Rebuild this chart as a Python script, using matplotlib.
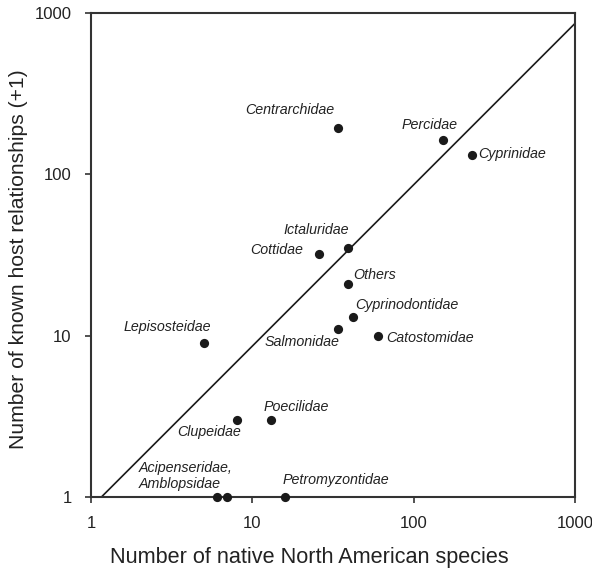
import matplotlib
matplotlib.use("Agg")
import matplotlib.pyplot as plt
import numpy as np

plt.rcParams['font.family'] = ['Liberation Sans', 'DejaVu Sans']

# native species (x) vs known host relationships +1 (y)
families = ["Centrarchidae", "Percidae", "Cyprinidae", "Ictaluridae", "Cottidae",
            "Others", "Cyprinodontidae", "Salmonidae", "Catostomidae", "Lepisosteidae",
            "Poecilidae", "Clupeidae", "Acipenseridae", "Amblopsidae", "Petromyzontidae"]
n_species = [34, 151, 231, 39, 26, 39, 42, 34, 60, 5, 13, 8, 6, 7, 16]
n_hosts = [193, 163, 131, 35, 32, 21, 13, 11, 10, 9, 3, 3, 1, 1, 1]

# fitted line y = x / 1.16
fit_x = [1.16, 1000]
fit_slope = 1 / 1.16

# label text, offset in pixels from the dot, alignment
labels = {
    "Centrarchidae": ("Centrarchidae", (-4, 18), "right"),
    "Percidae": ("Percidae", (-13, 15), "center"),
    "Cyprinidae": ("Cyprinidae", (6, 1), "left"),
    "Ictaluridae": ("Ictaluridae", (1, 18), "right"),
    "Cottidae": ("Cottidae", (-16, 4), "right"),
    "Others": ("Others", (6, 9), "left"),
    "Cyprinodontidae": ("Cyprinodontidae", (2, 12), "left"),
    "Salmonidae": ("Salmonidae", (1, -13), "right"),
    "Catostomidae": ("Catostomidae", (8, -2), "left"),
    "Lepisosteidae": ("Lepisosteidae", (-36, 16), "center"),
    "Poecilidae": ("Poecilidae", (-7, 13), "left"),
    "Clupeidae": ("Clupeidae", (4, -12), "right"),
    "Acipenseridae": ("Acipenseridae,\nAmblopsidae", (-78, 21), "left"),
    "Petromyzontidae": ("Petromyzontidae", (-3, 17), "left"),
}

fig = plt.figure(figsize=(5.92, 5.73), dpi=100)
ax = fig.add_axes([0.1537, 0.1326, 0.8176, 0.8447])

ax.set_xscale("log")
ax.set_yscale("log")
ax.set_xlim(1, 1000)
ax.set_ylim(1, 1000)

fx = np.array(fit_x)
ax.plot(fx, fx * fit_slope, color="#1a1a1a", lw=1.2, zorder=2)

ax.scatter(n_species, n_hosts, s=44, color="#1a1a1a", zorder=3, clip_on=False,
           linewidths=0)

for name, x, y in zip(families, n_species, n_hosts):
    if name not in labels:
        continue
    txt, off, ha = labels[name]
    ax.annotate(txt, (x, y), xytext=off, textcoords="offset pixels",
                ha=ha, va="center", fontsize=10.3, style="italic", color="#222222",
                linespacing=1.25)

ax.set_xticks([1, 10, 100, 1000])
ax.set_yticks([1, 10, 100, 1000])
ax.set_xticklabels(["1", "10", "100", "1000"])
ax.set_yticklabels(["1", "10", "100", "1000"])
ax.minorticks_off()
ax.tick_params(axis="both", which="major", length=4, width=1.2, pad=10,
               labelsize=12, colors="#333333", labelcolor="#222222")

for s in ax.spines.values():
    s.set_linewidth(1.5)
    s.set_color("#333333")

# axis titles placed in figure pixels, as in the original layout
W, H = 592, 573
fig.text(309 / W, 1 - 558 / H, "Number of native North American species",
         fontsize=15.6, color="#222222", ha="center", va="center")
fig.text(19 / W, 1 - 259 / H, "Number of known host relationships (+1)",
         fontsize=15.2, color="#222222", ha="center", va="center", rotation=90)

fig.savefig("out.png", dpi=100)
